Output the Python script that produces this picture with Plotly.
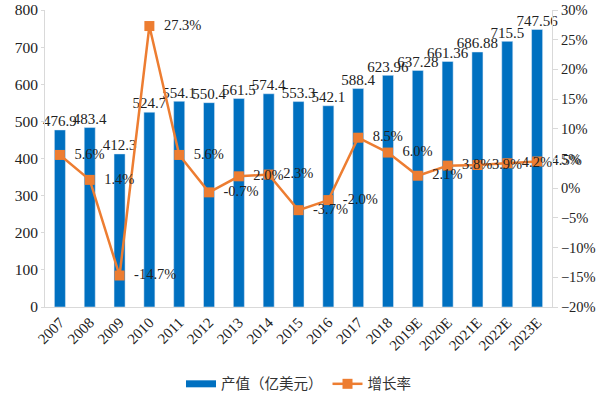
import plotly.graph_objects as go

years = ["2007", "2008", "2009", "2010", "2011", "2012", "2013", "2014", "2015",
         "2016", "2017", "2018", "2019E", "2020E", "2021E", "2022E", "2023E"]
output_value = [476.9, 483.4, 412.3, 524.7, 554.1, 550.4, 561.5, 574.4, 553.3,
                542.1, 588.4, 623.96, 637.28, 661.36, 686.88, 715.5, 747.56]
output_labels = ["476.9", "483.4", "412.3", "524.7", "554.1", "550.4", "561.5", "574.4", "553.3",
                 "542.1", "588.4", "623.96", "637.28", "661.36", "686.88", "715.5", "747.56"]
growth = [5.6, 1.4, -14.7, 27.3, 5.6, -0.7, 2.0, 2.3, -3.7,
          -2.0, 8.5, 6.0, 2.1, 3.8, 3.9, 4.2, 4.5]

blue = "#0070C0"
orange = "#ED7D31"
serif = "'Times New Roman', 'Liberation Serif', 'DejaVu Serif', serif"
cjk = "Noto Sans CJK SC"

fig = go.Figure()
fig.add_trace(go.Bar(
    x=years, y=output_value, name="产值（亿美元）",
    marker_color=blue, width=0.37, showlegend=False,
))
# legend proxy for bars (wide rectangle swatch)
fig.add_trace(go.Scatter(
    x=[None], y=[None], name="产值（亿美元）", mode="lines",
    line=dict(color=blue, width=7),
))
fig.add_trace(go.Scatter(
    x=years, y=output_value, mode="text", text=output_labels,
    textposition="top center", showlegend=False, cliponaxis=False,
    textfont=dict(family=serif, size=15, color="#222"), hoverinfo="skip",
))
fig.add_trace(go.Scatter(
    x=years, y=growth, name="增长率", yaxis="y2",
    mode="lines+markers+text",
    line=dict(color=orange, width=2.5),
    marker=dict(symbol="square", size=10, color=orange),
    text=["\u00a0\u00a0" + f"{g:.1f}%" for g in growth], textposition="middle right",
    textfont=dict(family=serif, size=14.5, color="#222"),
    cliponaxis=False,
))

fig.update_layout(
    width=600, height=393,
    margin=dict(l=45, r=48, t=10, b=86, autoexpand=False),
    plot_bgcolor="white", paper_bgcolor="white",
    font=dict(family=serif, size=14, color="#222"),
    showlegend=True,
    legend=dict(orientation="h", x=0.5, xanchor="center", y=-0.205, yanchor="top",
                font=dict(family=cjk, size=14.5, color="#333"),
                traceorder="normal"),
    xaxis=dict(tickangle=-45, showgrid=False, showline=True, linecolor="#d9d9d9",
               range=[-0.5, len(years) - 0.5],
               tickfont=dict(family=serif, size=15, color="#222"), ticks="",
               automargin=False),
    yaxis=dict(range=[0, 800], dtick=100, showgrid=False, showline=True,
               linecolor="#d9d9d9", ticks="outside", ticklen=3, tickcolor="#d9d9d9",
               tickfont=dict(family=serif, size=15.5, color="#222"), automargin=False),
    yaxis2=dict(range=[-20, 30], dtick=5, overlaying="y", side="right",
                ticksuffix="%", showgrid=False, showline=True, linecolor="#d9d9d9",
                ticks="outside", ticklen=5, tickcolor="#d9d9d9", zeroline=False,
                tickfont=dict(family=serif, size=14.5, color="#222"), automargin=False),
)

fig.write_html("out.html", config={"displayModeBar": False},
               post_script="document.body.style.margin='0';document.body.style.padding='0';")
